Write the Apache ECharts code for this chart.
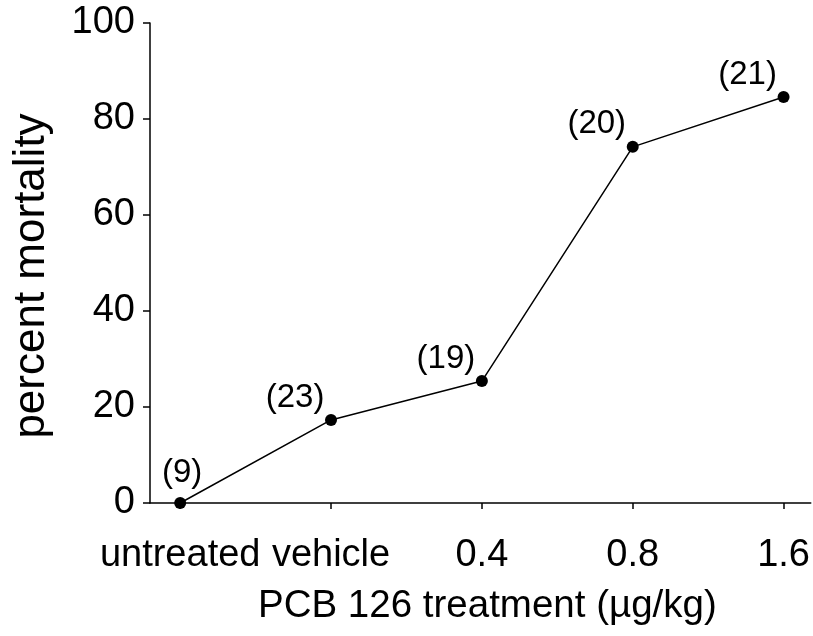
<!DOCTYPE html>
<html>
<head>
<meta charset="utf-8">
<script src="https://cdn.jsdelivr.net/npm/echarts@6/dist/echarts.min.js"></script>
<style>
  html, body { margin: 0; padding: 0; background: #fff; }
  #chart { width: 813px; height: 636px; }
</style>
</head>
<body>
<div id="chart"></div>
<script>
// treatment groups along the x axis
const categories = ['untreated', 'vehicle', '0.4', '0.8', '1.6']
// percent mortality per group
const mortality = [0, 17.3, 25.4, 74.2, 84.6]
// number of animals per group (shown above points)
const sampleSizes = [9, 23, 19, 20, 21]
const yTicks = [0, 20, 40, 60, 80, 100]

const chart = echarts.init(document.getElementById('chart'))
const font = 'Liberation Sans, Arial, sans-serif'

const points = mortality.map((v, i) => ({
  value: [i, v],
  label: {
    formatter: '(' + sampleSizes[i] + ')',
    offset: i === 0 ? [2, -4] : [-36, 4]
  }
}))

chart.setOption({
  animation: false,
  grid: {
    left: 150,
    right: 0,
    top: 23,
    bottom: 133
  },
  xAxis: {
    type: 'value',
    min: -0.2,
    max: 4.18,
    name: 'PCB 126 treatment (µg/kg)',
    nameLocation: 'middle',
    nameGap: 84,
    nameMoveOverlap: false,
    nameTextStyle: {
      fontFamily: font,
      fontSize: 38.5,
      color: '#000',
      padding: [0, 0, 0, 14]
    },
    axisLine: { lineStyle: { color: '#000', width: 1.5 } },
    axisTick: {
      show: true,
      length: 6,
      customValues: [0, 1, 2, 3, 4],
      lineStyle: { color: '#000', width: 1.5 }
    },
    axisLabel: {
      customValues: [0, 1, 2, 3, 4],
      formatter: v => categories[Math.round(v)],
      margin: 34,
      fontFamily: font,
      fontSize: 38,
      color: '#000'
    },
    splitLine: { show: false }
  },
  yAxis: {
    type: 'value',
    min: 0,
    max: 100,
    interval: 20,
    name: 'percent mortality',
    nameLocation: 'middle',
    nameGap: 96,
    nameMoveOverlap: false,
    nameTextStyle: {
      fontFamily: font,
      fontSize: 44,
      color: '#000',
      padding: [0, 26, 0, 0]
    },
    axisLine: { show: true, onZero: false, lineStyle: { color: '#000', width: 1.5 } },
    axisTick: { show: true, length: 7, lineStyle: { color: '#000', width: 1.5 } },
    axisLabel: {
      margin: 15,
      fontFamily: font,
      fontSize: 38,
      color: '#000',
      customValues: yTicks
    },
    splitLine: { show: false }
  },
  series: [{
    type: 'line',
    data: points,
    symbol: 'circle',
    symbolSize: 12,
    lineStyle: { color: '#000', width: 1.5 },
    itemStyle: { color: '#000' },
    label: {
      show: true,
      position: 'top',
      distance: 4,
      fontFamily: font,
      fontSize: 33,
      color: '#000'
    }
  }]
})
</script>
</body>
</html>
